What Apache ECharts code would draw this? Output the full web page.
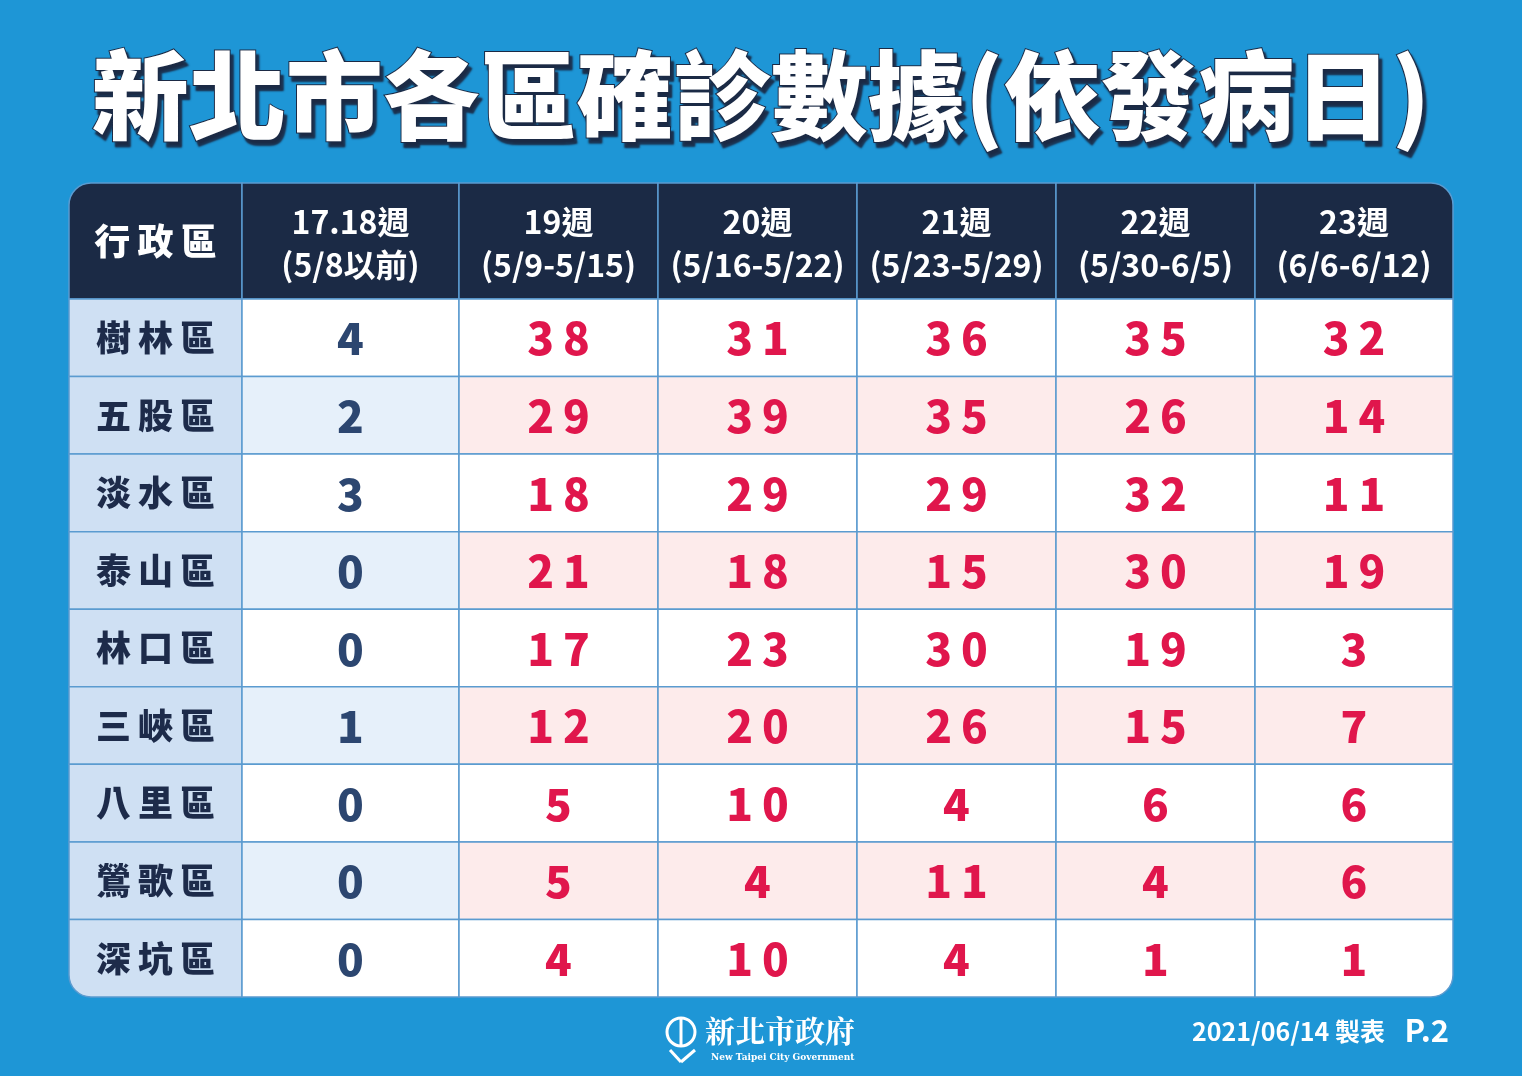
<!DOCTYPE html>
<html><head><meta charset="utf-8">
<script src="https://cdn.jsdelivr.net/npm/echarts@6/dist/echarts.min.js"></script>
<style>html,body{margin:0;padding:0;background:#1e96d6;}#c{width:1522px;height:1076px;}</style>
</head><body><div id="c"></div>
<script>
const title = '新北市各區確診數據(依發病日)';
const headerTop = ['行政區','17.18週','19週','20週','21週','22週','23週'];
const headerBottom = ['','(5/8以前)','(5/9-5/15)','(5/16-5/22)','(5/23-5/29)','(5/30-6/5)','(6/6-6/12)'];
const districts = ['樹林區','五股區','淡水區','泰山區','林口區','三峽區','八里區','鶯歌區','深坑區'];
const w1718 = [4,2,3,0,0,1,0,0,0];
const w19 = [38,29,18,21,17,12,5,5,4];
const w20 = [31,39,29,18,23,20,10,4,10];
const w21 = [36,35,29,15,30,26,4,11,4];
const w22 = [35,26,32,30,19,15,6,4,1];
const w23 = [32,14,11,19,3,7,6,6,1];
const footerDate = '2021/06/14 製表';
const footerPage = 'P.2';

// layout (pixel units within grid)
const colEdges = [0,173,390,589,788,987,1186,1384];
const headerH = 116;
const rowH = (814 - headerH) / districts.length;

const weeks = [w1718,w19,w20,w21,w22,w23];
const cells = [];
headerTop.forEach((t,c)=>cells.push([c,-1,t,headerBottom[c]]));
districts.forEach((d,r)=>{
  cells.push([0,r,d,'']);
  weeks.forEach((arr,k)=>cells.push([k+1,r,String(arr[r]),'']));
});
const nRows = districts.length;
function renderItem(params, api){
  const c = api.value(0), r = api.value(1);
  const y0 = r<0 ? 0 : headerH + r*rowH;
  const y1 = r<0 ? headerH : headerH + (r+1)*rowH;
  const p0 = api.coord([colEdges[c], y0]);
  const p1 = api.coord([colEdges[c+1], y1]);
  let fill, color;
  if (r<0){ fill='#1b2a45'; color='#ffffff'; }
  else if (c===0){ fill='#cfe0f3'; color='#1d2b4a'; }
  else if (c===1){ fill = r%2 ? '#e6f0fa' : '#ffffff'; color='#2c4670'; }
  else { fill = r%2 ? '#fdebeb' : '#ffffff'; color='#e0164c'; }
  let radius = 0;
  const R=22;
  if (r<0 && c===0) radius=[R,0,0,0];
  if (r<0 && c===6) radius=[0,R,0,0];
  if (r===nRows-1 && c===0) radius=[0,0,0,R];
  if (r===nRows-1 && c===6) radius=[0,0,R,0];
  const cx=(p0[0]+p1[0])/2, cy=(p0[1]+p1[1])/2;
  const children = [{type:'rect', shape:{x:p0[0],y:p0[1],width:p1[0]-p0[0],height:p1[1]-p0[1],r:radius},
    style:{fill:fill, stroke:'#5b9bd0', lineWidth:1.5}}];
  const t = api.value(2), b = api.value(3);
  if (r<0){
    if (b){
      children.push({type:'text',style:{x:cx,y:cy-19,text:t,fill:color,font:'bold 32px "Noto Sans CJK TC"',align:'center',verticalAlign:'middle'}});
      children.push({type:'text',style:{x:cx,y:cy+24,text:b,fill:color,font:'bold 32px "Noto Sans CJK TC"',align:'center',verticalAlign:'middle'}});
    } else {
      children.push({type:'text',style:{x:cx,y:cy,text:t.split('').join('\u2009'),fill:color,font:'900 36px "Noto Sans CJK TC"',align:'center',verticalAlign:'middle'}});
    }
  } else if (c===0){
    children.push({type:'text',style:{x:cx,y:cy,text:t.split('').join('\u2009'),fill:color,font:'900 35px "Noto Sans CJK TC"',align:'center',verticalAlign:'middle'}});
  } else {
    children.push({type:'text',style:{x:cx,y:cy+1,text:t.split('').join('\u2009'),fill:color,font:'900 44px "Noto Sans CJK TC"',align:'center',verticalAlign:'middle'}});
  }
  return {type:'group', children};
}
const chart = echarts.init(document.getElementById('c'));
chart.setOption({
  backgroundColor:'#1e96d6',
  animation:false,
  title:{text:title,left:'center',top:42,textStyle:{color:'#ffffff',fontSize:97,fontWeight:900,fontFamily:'"Noto Sans CJK TC"',textShadowColor:'#1b2a45',textShadowBlur:2,textShadowOffsetX:3,textShadowOffsetY:5,textBorderColor:'#1b2a45',textBorderWidth:2}},
  grid:{left:69,right:69,top:183,bottom:79},
  xAxis:{type:'value',min:0,max:1384,show:false},
  yAxis:{type:'value',min:0,max:814,inverse:true,show:false},
  series:[{type:'custom',renderItem,data:cells,clip:false}],
  graphic:[
    {type:'text',left:705,top:1016,style:{text:'新北市政府',fill:'#fff',font:'bold 30px "Noto Serif CJK TC","Noto Sans CJK TC"'}},
    {type:'text',left:711,top:1053,style:{text:'New Taipei City Government',fill:'#fff',font:'bold 9px "DejaVu Serif"'}},
    {type:'circle',shape:{cx:681,cy:1032,r:14},style:{fill:'none',stroke:'#fff',lineWidth:3}},
    {type:'line',shape:{x1:681,y1:1018,x2:681,y2:1046},style:{stroke:'#fff',lineWidth:3}},
    {type:'line',shape:{x1:670,y1:1050,x2:681,y2:1062},style:{stroke:'#fff',lineWidth:3}},
    {type:'line',shape:{x1:695,y1:1050,x2:681,y2:1062},style:{stroke:'#fff',lineWidth:3}},
    {type:'text',right:137,top:1019,style:{text:footerDate,fill:'#fff',font:'bold 25px "Noto Sans CJK TC"'}},
    {type:'text',right:73,top:1015,style:{text:footerPage,fill:'#fff',font:'bold 31px "Noto Sans CJK TC"'}}
  ]
});
</script></body></html>
